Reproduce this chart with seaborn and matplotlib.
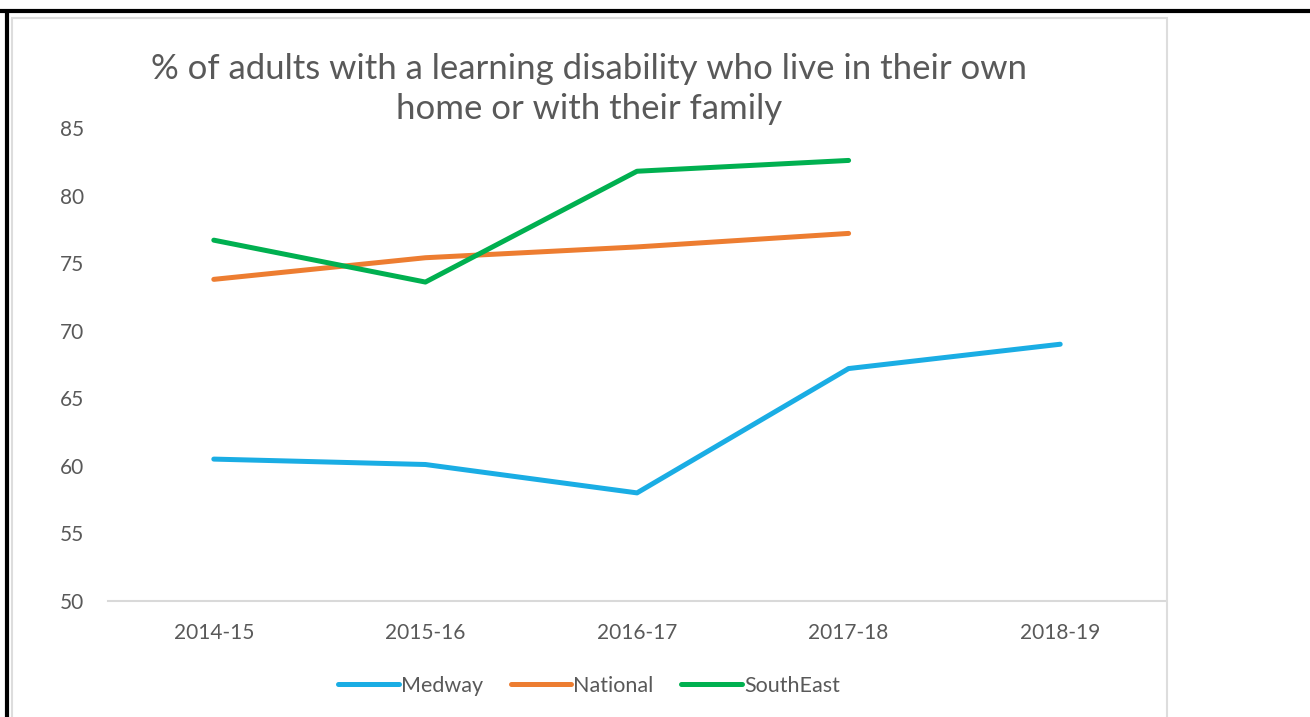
import numpy as np
import pandas as pd
import matplotlib
matplotlib.use("Agg")
import matplotlib.pyplot as plt
from matplotlib.patches import Rectangle
from matplotlib.lines import Line2D
import seaborn as sns

sns.set_style("white")
plt.rcParams['font.family'] = ['Lato', 'DejaVu Sans']

# values
years = ['2014-15', '2015-16', '2016-17', '2017-18', '2018-19']
medway = [60.5, 60.1, 58.0, 67.2, 69.0]
national = [73.8, 75.4, 76.2, 77.2, np.nan]
southeast = [76.7, 73.6, 81.8, 82.6, np.nan]

series = ['Medway', 'National', 'SouthEast']
colours = ['#1AADE4', '#ED7D31', '#00B050']

df = pd.DataFrame({'Year': years * 3,
                   'Area': np.repeat(series, len(years)),
                   'Value': medway + national + southeast})
df = df.dropna()

W, H = 1310, 717
fig = plt.figure(figsize=(W / 100, H / 100), dpi=100)

# chart frame and outer black border
fig.patches.append(Rectangle((12 / W, -0.05), (1167 - 12) / W, 1.05 - 18 / H,
                             transform=fig.transFigure, fill=False,
                             edgecolor='#DDDDDD', linewidth=1.5))
fig.add_artist(Line2D([0, 1], [1 - 11 / H, 1 - 11 / H], transform=fig.transFigure,
                      color='black', linewidth=3))
fig.add_artist(Line2D([6.5 / W, 6.5 / W], [0, 1 - 11 / H], transform=fig.transFigure,
                      color='black', linewidth=3))

ax = fig.add_axes([108 / W, 1 - 601 / H, (1166 - 108) / W, (601 - 128) / H])
sns.lineplot(data=df, x='Year', y='Value', hue='Area', hue_order=series,
             palette=colours, linewidth=3.6, sort=False, ax=ax, legend=False)

ax.set_xlim(-0.5, 4.5)
ax.set_ylim(50, 85)
ax.set_yticks(range(50, 90, 5))
ax.set_xlabel('')
ax.set_ylabel('')
for s in ['left', 'right', 'top']:
    ax.spines[s].set_visible(False)
ax.spines['bottom'].set_color('#D9D9D9')
ax.spines['bottom'].set_linewidth(1.5)
ax.tick_params(axis='both', length=0, labelsize=15, colors='#595959')
ax.tick_params(axis='y', pad=17)
ax.tick_params(axis='x', pad=16)
ax.grid(False)

fig.text(589 / W, 1 - 89 / H,
         '% of adults with a learning disability who live in their own\nhome or with their family',
         ha='center', va='center', fontsize=25, color='#595959', linespacing=1.3)

handles = [Line2D([], [], color=c, linewidth=3.6) for c in colours]
leg = fig.legend(handles, series, loc='center', bbox_to_anchor=(589 / W, 1 - 686 / H),
                 ncol=3, frameon=False, fontsize=15.5, handlelength=2.8,
                 handletextpad=0.1, columnspacing=1.3)
for t in leg.get_texts():
    t.set_color('#595959')

fig.savefig('out.png', dpi=100)
